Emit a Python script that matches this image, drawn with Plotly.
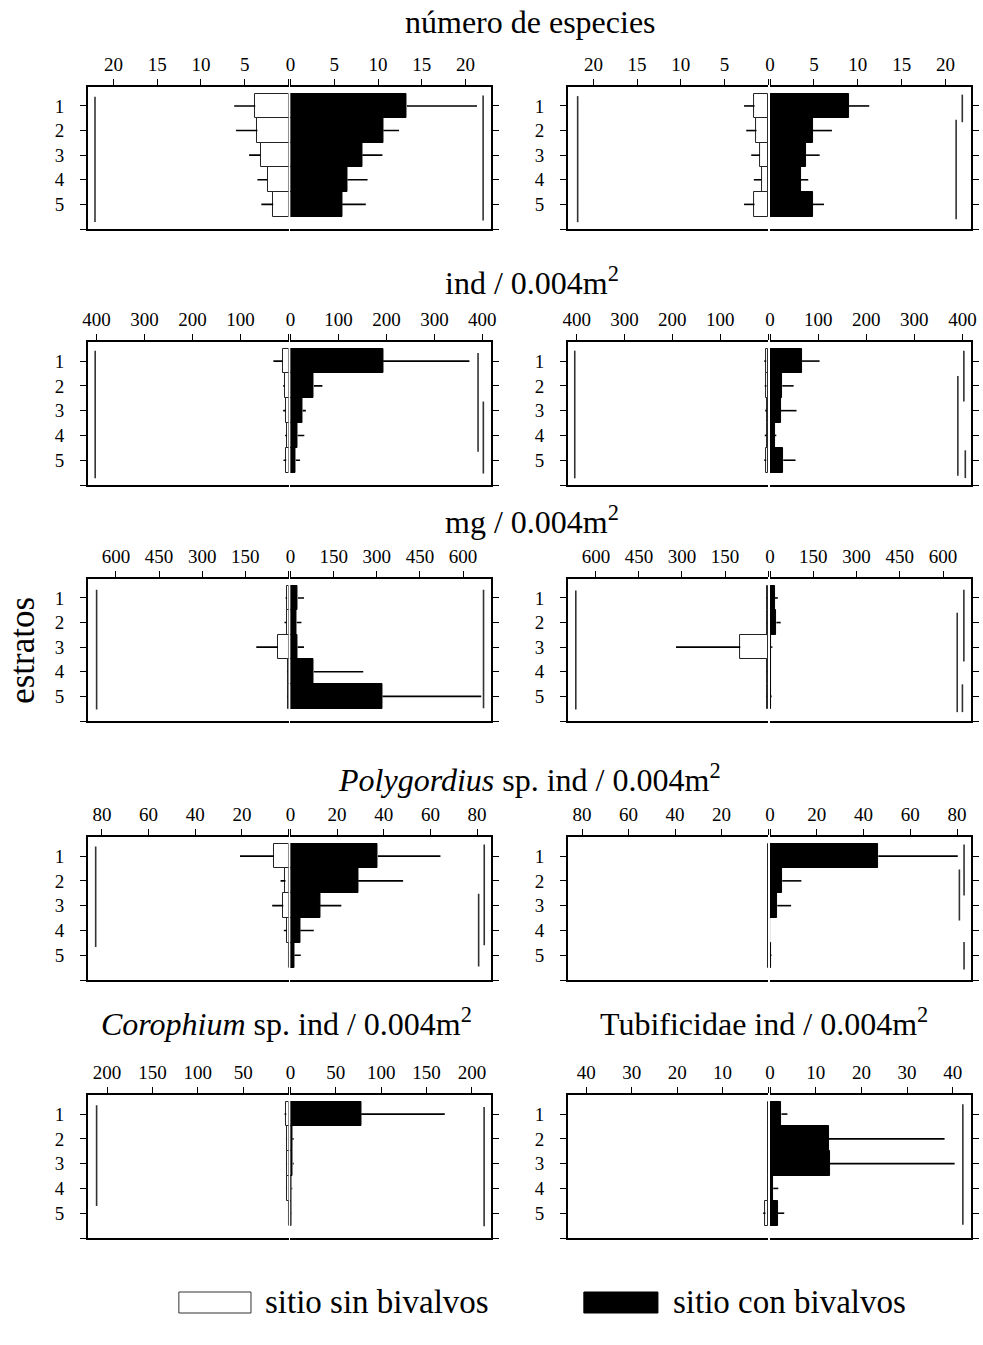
import plotly.graph_objects as go

W, H = 983, 1345
FONT = "Liberation Serif"

# ---------------- data ----------------
ESTRATOS = [1, 2, 3, 4, 5]
ESTRATO_TXT = ["1", "2", "3", "4", "5"]

# número de especies
ESP_A_SIN = [3.8, 3.55, 3.2, 2.4, 1.75]
ESP_A_SIN_SUP = [6.2, 6.0, 4.5, 3.55, 3.1]
ESP_A_CON = [13.3, 10.6, 8.2, 6.5, 5.9]
ESP_A_CON_SUP = [21.3, 12.4, 10.5, 8.8, 8.6]
ESP_B_SIN = [1.55, 1.33, 0.92, 0.73, 1.55]
ESP_B_SIN_SUP = [2.75, 2.5, 1.93, 1.63, 2.75]
ESP_B_CON = [9.0, 4.85, 4.1, 3.5, 4.85]
ESP_B_CON_SUP = [11.3, 7.05, 5.65, 4.35, 6.15]

# ind / 0.004 m2
IND_A_SIN = [12.3, 7.6, 5.5, 3.5, 4.8]
IND_A_SIN_SUP = [31.5, 11.0, 11.0, 7.0, 10.3]
IND_A_CON = [193, 48.7, 25.3, 15, 11]
IND_A_CON_SUP = [373, 66.5, 32, 28.8, 20]
IND_B_SIN = [4, 3.5, 3, 3, 4]
IND_B_SIN_SUP = [8, 7, 6, 7, 8]
IND_B_CON = [66.5, 25.4, 22, 9.6, 27.4]
IND_B_CON_SUP = [103, 49, 55, 13, 53]

# mg / 0.004 m2
MG_A_SIN = [5, 7, 36.7, 2, 2]
MG_A_SIN_SUP = [10, 14, 112, 4, 4]
MG_A_CON = [26, 22, 25, 81, 320]
MG_A_CON_SUP = [47, 38, 47, 253, 663]
MG_B_SIN = [4, 4, 97, 3, 4]
MG_B_SIN_SUP = [6, 6, 321, 5, 6]
MG_B_CON = [17, 22, 4, 2, 4]
MG_B_CON_SUP = [27, 37, 8, 3, 6]

# Polygordius sp. ind / 0.004 m2
POL_A_SIN = [6.2, 1.3, 2.25, 0.7, 0]
POL_A_SIN_SUP = [20.8, 3.4, 7.0, 2.0, 0]
POL_A_CON = [37.5, 29, 12.7, 4.2, 1.7]
POL_A_CON_SUP = [64.3, 48.3, 21.8, 10, 4.4]
POL_B_SIN = [0, 0, 0, 0, 0]
POL_B_SIN_SUP = [0, 0, 0, 0, 0]
POL_B_CON = [46.3, 5.2, 3.1, 0, 0.4]
POL_B_CON_SUP = [80.3, 13.4, 9.0, 0, 0.6]

# Corophium sp. ind / 0.004 m2
COR_SIN = [2.5, 1.8, 1.8, 2.0, 0]
COR_SIN_SUP = [4.3, 2.5, 2.5, 2.5, 0]
COR_CON = [78, 2.2, 2.5, 1.2, 0.7]
COR_CON_SUP = [170, 3.5, 3.5, 2.0, 1.0]

# Tubificidae ind / 0.004 m2
TUB_SIN = [0, 0, 0, 0, 0.58]
TUB_SIN_SUP = [0, 0, 0, 0, 1.08]
TUB_CON = [2.5, 12.9, 13.1, 0.7, 1.65]
TUB_CON_SUP = [3.8, 38.2, 40.4, 1.8, 3.1]

# grouping lines (value, stratum from, stratum to)
ESP_A_GRP_SIN = [(22.1, 0.63, 5.72)]
ESP_A_GRP_CON = [(22.0, 0.58, 5.65)]
ESP_B_GRP_SIN = [(21.8, 0.6, 5.72)]
ESP_B_GRP_CON = [(21.9, 0.54, 1.66), (21.2, 1.56, 5.6)]
IND_A_GRP_SIN = [(403, 0.58, 5.73)]
IND_A_GRP_CON = [(391, 0.67, 4.66), (402, 2.63, 5.54)]
IND_B_GRP_SIN = [(404, 0.58, 5.73)]
IND_B_GRP_CON = [(403, 0.58, 2.63), (390.5, 1.6, 5.63), (406, 4.6, 5.72)]
MG_A_GRP_SIN = [(667, 0.67, 5.53)]
MG_A_GRP_CON = [(671, 0.67, 5.48)]
MG_B_GRP_SIN = [(670, 0.7, 5.53)]
MG_B_GRP_CON = [(672, 0.67, 3.58), (649, 1.6, 5.64), (667, 4.51, 5.64)]
POL_A_GRP_SIN = [(82.7, 0.61, 4.67)]
POL_A_GRP_CON = [(83.1, 0.53, 4.6), (80.7, 2.52, 5.46)]
POL_B_GRP_SIN = []
POL_B_GRP_CON = [(83, 0.53, 2.59), (81, 1.54, 3.6), (83, 4.47, 5.58)]
COR_GRP_SIN = [(211.5, 0.64, 4.71)]
COR_GRP_CON = [(213.4, 0.71, 5.53)]
TUB_GRP_SIN = []
TUB_GRP_CON = [(42.2, 0.6, 5.47)]

# axis ticks / extents
TICKS_ESP = [0, 5, 10, 15, 20]
TICKS_IND = [0, 100, 200, 300, 400]
TICKS_MG = [0, 150, 300, 450, 600]
TICKS_POL = [0, 20, 40, 60, 80]
TICKS_COR = [0, 50, 100, 150, 200]
TICKS_TUB = [0, 10, 20, 30, 40]
MAX_ESP, MAX_IND, MAX_MG, MAX_POL, MAX_COR, MAX_TUB = 22.9, 418, 697, 86, 221, 44

TITLES = [
    "número de especies",
    "ind / 0.004m<sup>2</sup>",
    "mg / 0.004m<sup>2</sup>",
    "<i>Polygordius</i> sp. ind / 0.004m<sup>2</sup>",
    "<i>Corophium</i> sp. ind / 0.004m<sup>2</sup>",
    "Tubificidae ind / 0.004m<sup>2</sup>",
]
LEGEND_NAMES = ["sitio sin bivalvos", "sitio con bivalvos"]

# ---------------- layout geometry (pixels) ----------------
COLS = [(83, 286, 288, 491), (569, 771.5, 773.5, 977)]
ROWS = [(87, 229), (342, 485), (579, 721), (837, 980), (1095, 1238)]

panels = [
    (0, 0, ESP_A_SIN, ESP_A_SIN_SUP, ESP_A_CON, ESP_A_CON_SUP, ESP_A_GRP_SIN, ESP_A_GRP_CON, TICKS_ESP, MAX_ESP),
    (0, 1, ESP_B_SIN, ESP_B_SIN_SUP, ESP_B_CON, ESP_B_CON_SUP, ESP_B_GRP_SIN, ESP_B_GRP_CON, TICKS_ESP, MAX_ESP),
    (1, 0, IND_A_SIN, IND_A_SIN_SUP, IND_A_CON, IND_A_CON_SUP, IND_A_GRP_SIN, IND_A_GRP_CON, TICKS_IND, MAX_IND),
    (1, 1, IND_B_SIN, IND_B_SIN_SUP, IND_B_CON, IND_B_CON_SUP, IND_B_GRP_SIN, IND_B_GRP_CON, TICKS_IND, MAX_IND),
    (2, 0, MG_A_SIN, MG_A_SIN_SUP, MG_A_CON, MG_A_CON_SUP, MG_A_GRP_SIN, MG_A_GRP_CON, TICKS_MG, MAX_MG),
    (2, 1, MG_B_SIN, MG_B_SIN_SUP, MG_B_CON, MG_B_CON_SUP, MG_B_GRP_SIN, MG_B_GRP_CON, TICKS_MG, MAX_MG),
    (3, 0, POL_A_SIN, POL_A_SIN_SUP, POL_A_CON, POL_A_CON_SUP, POL_A_GRP_SIN, POL_A_GRP_CON, TICKS_POL, MAX_POL),
    (3, 1, POL_B_SIN, POL_B_SIN_SUP, POL_B_CON, POL_B_CON_SUP, POL_B_GRP_SIN, POL_B_GRP_CON, TICKS_POL, MAX_POL),
    (4, 0, COR_SIN, COR_SIN_SUP, COR_CON, COR_CON_SUP, COR_GRP_SIN, COR_GRP_CON, TICKS_COR, MAX_COR),
    (4, 1, TUB_SIN, TUB_SIN_SUP, TUB_CON, TUB_CON_SUP, TUB_GRP_SIN, TUB_GRP_CON, TICKS_TUB, MAX_TUB),
]

fig = go.Figure()
layout = {}
tickfont = dict(family=FONT, size=19, color="black")
n = 0


def add_half(n, xdom, ydom, rng, ticks, side_y, show_ylabels, left_half):
    sfx = "" if n == 1 else str(n)
    major = [t for t in ticks if t != 0] if left_half else ticks
    layout["xaxis" + sfx] = dict(
        domain=[xdom[0] / W, xdom[1] / W], range=rng, anchor="y" + sfx, side="top",
        showline=True, mirror=True, linecolor="black", linewidth=2,
        ticks="outside", ticklen=6, tickwidth=1, tickcolor="black",
        tickvals=major, ticktext=[str(t) for t in major], tickfont=tickfont,
        minor=dict(tickvals=[0], ticks="outside", ticklen=6, tickwidth=1,
                   tickcolor="black", showgrid=False),
        showgrid=False, zeroline=False, fixedrange=True,
    )
    ya = dict(
        domain=[1 - ydom[1] / H, 1 - ydom[0] / H], range=[6, 0.23], anchor="x" + sfx,
        side=side_y, showline=True, mirror=False, linecolor="black", linewidth=2,
        ticks="outside", ticklen=6, tickwidth=1, tickcolor="black",
        tickvals=ESTRATOS,
        minor=dict(tickvals=[6], ticks="outside", ticklen=6, tickwidth=1,
                   tickcolor="black", showgrid=False),
        showgrid=False, zeroline=False, fixedrange=True,
    )
    if show_ylabels:
        ya.update(ticktext=ESTRATO_TXT, tickfont=tickfont, ticklabelstandoff=12)
    else:
        ya.update(showticklabels=False)
    layout["yaxis" + sfx] = ya
    return "x" + sfx, "y" + sfx


for (r, c, sin, sin_sup, con, con_sup, g_sin, g_con, ticks, vmax) in panels:
    xl0, xl1, xr0, xr1 = COLS[c]
    ydom = ROWS[r]
    # left half: sitio sin bivalvos (reversed axis)
    n += 1
    xa, ya = add_half(n, (xl0, xl1), ydom, [vmax, 0], ticks, "left", True, True)
    fig.add_trace(go.Bar(
        x=sin, y=ESTRATOS, orientation="h", xaxis=xa, yaxis=ya,
        marker=dict(color="white", line=dict(color="#222", width=1)),
        error_x=dict(type="data", symmetric=False,
                     array=[max(s - m, 0) for s, m in zip(sin_sup, sin)],
                     arrayminus=[0] * len(sin), width=0, thickness=1.6, color="black"),
        showlegend=False, hoverinfo="skip",
    ))
    for (v, y0, y1) in g_sin:
        fig.add_trace(go.Scatter(x=[v, v], y=[y0, y1], mode="lines", xaxis=xa, yaxis=ya,
                                 line=dict(color="#333", width=1.6), showlegend=False, hoverinfo="skip"))
    # right half: sitio con bivalvos
    n += 1
    xa, ya = add_half(n, (xr0, xr1), ydom, [0, vmax], ticks, "right", False, False)
    fig.add_trace(go.Bar(
        x=con, y=ESTRATOS, orientation="h", xaxis=xa, yaxis=ya,
        marker=dict(color="black", line=dict(color="black", width=1)),
        error_x=dict(type="data", symmetric=False,
                     array=[max(s - m, 0) for s, m in zip(con_sup, con)],
                     arrayminus=[0] * len(con), width=0, thickness=1.6, color="black"),
        showlegend=False, hoverinfo="skip",
    ))
    for (v, y0, y1) in g_con:
        fig.add_trace(go.Scatter(x=[v, v], y=[y0, y1], mode="lines", xaxis=xa, yaxis=ya,
                                 line=dict(color="#333", width=1.6), showlegend=False, hoverinfo="skip"))


def px_x(v):
    return v / W


def px_y(v):
    return 1 - v / H


title_font = dict(family=FONT, size=32, color="black")
annotations = [
    dict(text=TITLES[0], x=px_x(531), y=px_y(22)),
    dict(text=TITLES[1], x=px_x(532), y=px_y(281)),
    dict(text=TITLES[2], x=px_x(533), y=px_y(520)),
    dict(text=TITLES[3], x=px_x(530), y=px_y(778)),
    dict(text=TITLES[4], x=px_x(284), y=px_y(1022)),
    dict(text=TITLES[5], x=px_x(767), y=px_y(1022)),
]
for a in annotations:
    a.update(xref="paper", yref="paper", showarrow=False, xanchor="center", yanchor="middle", font=title_font)

annotations.append(dict(text="estratos", x=px_x(16), y=px_y(650), xref="paper", yref="paper",
                        showarrow=False, textangle=-90, xanchor="center", yanchor="middle",
                        font=dict(family=FONT, size=35, color="black")))
annotations.append(dict(text=LEGEND_NAMES[0], x=px_x(260), y=px_y(1302), xref="paper", yref="paper",
                        showarrow=False, xanchor="left", yanchor="middle",
                        font=dict(family=FONT, size=33, color="black")))
annotations.append(dict(text=LEGEND_NAMES[1], x=px_x(673), y=px_y(1302), xref="paper", yref="paper",
                        showarrow=False, xanchor="left", yanchor="middle",
                        font=dict(family=FONT, size=33, color="black")))

shapes = [
    dict(type="rect", xref="paper", yref="paper", x0=px_x(175), x1=px_x(248), y0=px_y(1313), y1=px_y(1292),
         line=dict(color="#333", width=1), fillcolor="white"),
    dict(type="rect", xref="paper", yref="paper", x0=px_x(585), x1=px_x(660), y0=px_y(1313), y1=px_y(1292),
         line=dict(color="black", width=1), fillcolor="black"),
]

fig.update_layout(
    width=W, height=H, autosize=False,
    margin=dict(l=0, r=0, t=0, b=0),
    paper_bgcolor="white", plot_bgcolor="white",
    bargap=0, barmode="overlay",
    font=dict(family=FONT, color="black"),
    annotations=annotations, shapes=shapes,
    **layout,
)

fig.write_html("out.html")
